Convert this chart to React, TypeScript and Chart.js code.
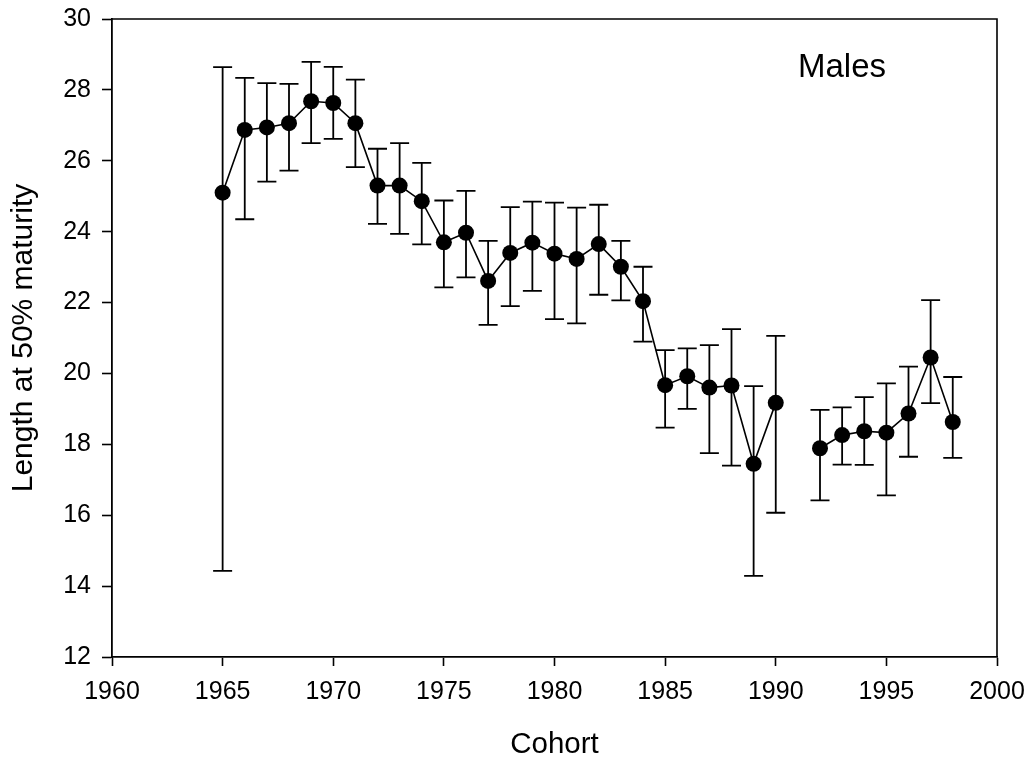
import React, { useEffect, useRef } from "react";
import { Chart, registerables } from "chart.js";

Chart.register(...registerables);

const cohorts = [1965, 1966, 1967, 1968, 1969, 1970, 1971, 1972, 1973, 1974, 1975, 1976, 1977, 1978, 1979, 1980, 1981, 1982, 1983, 1984, 1985, 1986, 1987, 1988, 1989, 1990, 1991, 1992, 1993, 1994, 1995, 1996, 1997, 1998];
const lengthMean = [25.10, 26.87, 26.94, 27.06, 27.68, 27.63, 27.06, 25.30, 25.30, 24.86, 23.70, 23.97, 22.61, 23.40, 23.69, 23.38, 23.23, 23.65, 23.01, 22.04, 19.67, 19.92, 19.60, 19.66, 17.45, 19.17, null, 17.89, 18.26, 18.37, 18.33, 18.87, 20.45, 18.63];
const lengthLower = [14.43, 24.35, 25.41, 25.72, 26.50, 26.62, 25.82, 24.22, 23.94, 23.64, 22.43, 22.71, 21.37, 21.90, 22.33, 21.53, 21.41, 22.22, 22.06, 20.90, 18.47, 19.00, 17.75, 17.40, 14.29, 16.07, null, 16.42, 17.43, 17.42, 16.56, 17.65, 19.16, 17.62];
const lengthUpper = [28.64, 28.34, 28.19, 28.17, 28.79, 28.65, 28.29, 26.34, 26.50, 25.94, 24.88, 25.15, 23.74, 24.69, 24.85, 24.82, 24.68, 24.76, 23.74, 23.01, 20.66, 20.71, 20.80, 21.25, 19.64, 21.06, null, 18.97, 19.04, 19.33, 19.72, 20.19, 22.07, 19.90];
const panelLabel = "Males";

const FONT = "'Liberation Sans', Arial, Helvetica, sans-serif";

const errorBarPlugin = {
  id: "errorBars",
  beforeDatasetsDraw(chart: any) {
    const ctx = chart.ctx;
    const xs = chart.scales.x;
    const ys = chart.scales.y;
    ctx.save();
    ctx.strokeStyle = "#000";
    ctx.lineWidth = 1.8;
    const cap = 9.5;
    for (let i = 0; i < cohorts.length; i++) {
      const lo = lengthLower[i];
      const hi = lengthUpper[i];
      if (lo == null || hi == null) continue;
      const px = xs.getPixelForValue(cohorts[i]);
      const pLo = ys.getPixelForValue(lo);
      const pHi = ys.getPixelForValue(hi);
      ctx.beginPath();
      ctx.moveTo(px, pLo);
      ctx.lineTo(px, pHi);
      ctx.moveTo(px - cap, pLo);
      ctx.lineTo(px + cap, pLo);
      ctx.moveTo(px - cap, pHi);
      ctx.lineTo(px + cap, pHi);
      ctx.stroke();
    }
    ctx.restore();
  },
};

const framePlugin = {
  id: "frameAndLabel",
  afterDraw(chart: any) {
    const ctx = chart.ctx;
    const a = chart.chartArea;
    ctx.save();
    ctx.strokeStyle = "#000";
    ctx.lineWidth = 1.6;
    ctx.beginPath();
    ctx.moveTo(a.left, a.top);
    ctx.lineTo(a.right, a.top);
    ctx.lineTo(a.right, a.bottom);
    ctx.stroke();
    ctx.fillStyle = "#000";
    ctx.font = `33px ${FONT}`;
    ctx.textAlign = "left";
    ctx.textBaseline = "alphabetic";
    ctx.fillText(panelLabel, 798, 77);
    ctx.restore();
  },
};

export default function App() {
  const ref = useRef<HTMLCanvasElement | null>(null);
  useEffect(() => {
    if (!ref.current) return;
    const points = cohorts.map((c, i) => ({ x: c, y: lengthMean[i] }));
    const chart = new Chart(ref.current, {
      type: "line",
      data: {
        datasets: [
          {
            data: points as any,
            borderColor: "#000",
            borderWidth: 1.6,
            backgroundColor: "#000",
            pointBackgroundColor: "#000",
            pointBorderColor: "#000",
            pointRadius: 8,
            pointBorderWidth: 0,
            spanGaps: false,
            tension: 0,
          },
        ],
      },
      options: {
        animation: false,
        responsive: false,
        maintainAspectRatio: false,
        layout: { padding: { left: 0, right: 32, top: 19, bottom: 0 } },
        plugins: {
          legend: { display: false },
          tooltip: { enabled: false },
        },
        scales: {
          x: {
            type: "linear",
            min: 1960,
            max: 2000,
            afterFit: (s: any) => {
              s.height = 106;
              s.paddingLeft = 0;
              s.paddingRight = 0;
            },
            ticks: {
              stepSize: 5,
              color: "#000",
              padding: 11,
              font: { family: FONT, size: 25 },
              callback: (v: any) => String(v),
            },
            grid: {
              display: true,
              drawOnChartArea: false,
              drawTicks: true,
              tickLength: 9,
              tickWidth: 1.6,
              tickColor: "#000",
              color: "#000",
            },
            border: { display: true, color: "#000", width: 1.8 },
            title: {
              display: true,
              text: "Cohort",
              color: "#000",
              font: { family: FONT, size: 29.5, lineHeight: 1 },
              padding: { top: 0, bottom: 3.5 },
            },
          },
          y: {
            type: "linear",
            min: 12,
            max: 30,
            afterFit: (s: any) => {
              s.width = 112;
              s.paddingTop = 0;
              s.paddingBottom = 0;
            },
            ticks: {
              stepSize: 2,
              color: "#000",
              padding: 11,
              font: { family: FONT, size: 25 },
            },
            grid: {
              display: true,
              drawOnChartArea: false,
              drawTicks: true,
              tickLength: 10,
              tickWidth: 1.6,
              tickColor: "#000",
              color: "#000",
            },
            border: { display: true, color: "#000", width: 1.8 },
            title: {
              display: true,
              text: "Length at 50% maturity",
              color: "#000",
              font: { family: FONT, size: 30, lineHeight: 1 },
              padding: { top: 9, bottom: 0 },
            },
          },
        },
      },
      plugins: [errorBarPlugin, framePlugin],
    });
    return () => chart.destroy();
  }, []);

  return (
    <div style={{ position: "fixed", left: 0, top: 0, width: 1029, height: 763, background: "#fff" }}>
      <canvas ref={ref} width={1029} height={763} style={{ width: 1029, height: 763, display: "block" }} />
    </div>
  );
}
